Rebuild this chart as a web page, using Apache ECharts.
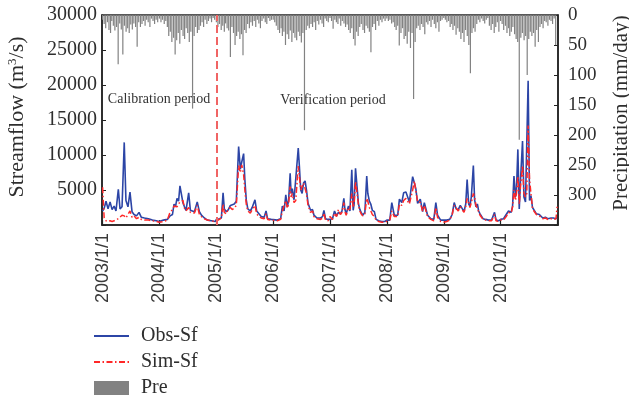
<!DOCTYPE html>
<html><head><meta charset="utf-8">
<script src="https://cdn.jsdelivr.net/npm/echarts/dist/echarts.min.js"></script>
<style>html,body{margin:0;padding:0;background:#fff}#c{width:629px;height:400px}</style>
</head><body><div id="c"></div>
<script>
// ---- data ----
const flowDates = [
'2003-01-01','2003-01-11','2003-01-23','2003-02-05','2003-02-18','2003-03-03','2003-03-16','2003-03-28','2003-04-12','2003-04-23','2003-05-06','2003-05-20','2003-05-31','2003-06-13','2003-06-26','2003-07-09','2003-07-22','2003-08-07','2003-08-23','2003-09-07','2003-09-27','2003-10-22','2003-11-17','2003-12-12','2003-12-30',
'2004-01-01','2004-01-27','2004-02-21','2004-03-09','2004-03-25','2004-04-04','2004-04-13','2004-04-23','2004-05-03','2004-05-12','2004-05-19','2004-05-31','2004-06-10','2004-06-20','2004-07-07','2004-07-18','2004-07-31','2004-08-13','2004-08-31','2004-09-14','2004-09-27','2004-10-16','2004-11-04','2004-11-30','2004-12-25',
'2005-01-01','2005-01-20','2005-02-02','2005-02-13','2005-02-21','2005-03-06','2005-03-19','2005-04-01','2005-04-13','2005-04-26','2005-05-09','2005-05-24','2005-06-04','2005-06-13','2005-06-25','2005-07-03','2005-07-12','2005-07-22','2005-08-07','2005-08-19','2005-09-06','2005-09-17','2005-09-27','2005-10-16','2005-11-04','2005-11-16','2005-11-26','2005-12-19','2005-12-30',
'2006-01-01','2006-01-27','2006-02-18','2006-03-01','2006-03-12','2006-03-23','2006-04-02','2006-04-10','2006-04-20','2006-04-26','2006-05-04','2006-05-15','2006-05-26','2006-06-11','2006-06-18','2006-06-27','2006-07-06','2006-07-15','2006-07-25','2006-08-03','2006-08-13','2006-08-29','2006-09-11','2006-09-20','2006-10-09','2006-11-01','2006-11-14','2006-11-23','2006-12-03','2006-12-19','2006-12-30',
'2007-01-01','2007-01-17','2007-01-30','2007-02-12','2007-02-24','2007-03-09','2007-03-19','2007-03-31','2007-04-07','2007-04-15','2007-04-30','2007-05-09','2007-05-21','2007-05-30','2007-06-05','2007-06-14','2007-06-24','2007-07-03','2007-07-12','2007-07-20','2007-07-30','2007-08-13','2007-08-25','2007-09-01','2007-09-11','2007-09-20','2007-09-30','2007-10-13','2007-10-24','2007-11-10','2007-11-30','2007-12-19','2007-12-30',
'2008-01-01','2008-01-20','2008-02-02','2008-02-18','2008-03-11','2008-03-22','2008-04-06','2008-04-18','2008-05-03','2008-05-14','2008-05-25','2008-06-15','2008-06-26','2008-07-06','2008-07-17','2008-08-03','2008-08-18','2008-08-29','2008-09-19','2008-10-10','2008-10-29','2008-11-11','2008-11-22','2008-12-12','2008-12-30',
'2009-01-01','2009-01-20','2009-02-08','2009-02-24','2009-03-09','2009-03-22','2009-04-04','2009-04-17','2009-04-29','2009-05-11','2009-05-22','2009-05-31','2009-06-10','2009-06-18','2009-06-27','2009-07-10','2009-07-18','2009-07-27','2009-08-05','2009-08-13','2009-08-22','2009-09-10','2009-09-27','2009-10-16','2009-11-04','2009-11-23','2009-12-03','2009-12-19','2009-12-30',
'2010-01-01','2010-01-20','2010-02-06','2010-02-21','2010-03-10','2010-03-19','2010-03-28','2010-04-07','2010-04-13','2010-04-22','2010-05-01','2010-05-09','2010-05-22','2010-05-31','2010-06-10','2010-06-18','2010-06-27','2010-07-06','2010-07-15','2010-07-25','2010-08-03','2010-08-19','2010-09-07','2010-09-29','2010-10-16','2010-10-31','2010-11-21','2010-12-06','2010-12-23','2010-12-30'
];
const obsFlow = [
2000,2400,3400,2300,3300,2200,2700,2000,5100,2300,2600,11800,3500,2600,4700,1900,1500,1300,1800,1100,1000,900,700,600,500,
600,700,800,1300,1500,3000,2600,3800,3400,5600,4700,3200,2600,2100,4600,2100,2000,1900,3300,1900,1400,1000,700,600,500,
800,900,1000,4600,2300,1900,2200,2800,2600,3000,3400,11200,8000,9000,10200,6500,3600,2300,2000,2500,3600,2000,1800,1200,1100,2000,900,800,700,
700,700,900,2700,2000,4300,2600,3500,7400,4500,5200,3600,3600,11000,8500,5000,4500,6000,6300,5000,3100,2100,2200,1400,1000,1000,1200,2100,900,800,700,
800,900,2000,1300,1800,1600,2000,3800,2200,1600,2700,2000,7900,2100,3000,8100,5400,3000,2200,1800,1400,1800,7000,4500,3400,3000,2100,1900,800,600,500,500,500,
700,700,3200,1400,1400,3700,3200,4600,4700,4800,3300,6900,6000,5100,3100,3700,1900,3200,1400,900,800,3200,1400,700,700,
700,700,800,1500,3200,2300,2200,2800,2900,1900,3000,6500,3000,2700,4000,8500,3600,2600,3000,2000,1600,900,800,700,700,1800,700,600,700,
800,900,1500,2000,1800,2700,7000,4000,5000,10800,2300,6400,12000,4000,3300,3100,20600,3500,4200,2500,2300,1600,1500,1000,1100,900,1000,1000,900,1000
];
const simFlow = [
5400,1000,600,500,600,500,600,700,900,1000,1400,1300,1000,1500,2000,1100,1300,900,1100,800,700,700,600,500,400,
400,500,700,1800,2200,2700,2500,2600,3000,3300,3400,3500,2400,2000,2500,1800,1700,1700,2800,1500,1200,900,700,600,450,
700,800,1000,3000,1800,1600,2300,2500,2200,2400,2800,8500,7500,8600,7200,5000,3000,2000,1700,2200,2800,1600,1300,1000,900,1600,800,700,600,
600,600,800,2000,1800,3500,2400,3000,5500,4000,4500,3200,3500,8400,7000,5000,5000,6000,5800,4500,2800,1800,2000,1200,900,800,1000,1700,700,600,600,
1200,800,1700,1200,2200,1500,1800,3200,1900,1400,2500,2200,4500,2500,3200,6200,4500,2800,2000,1600,1300,1600,3800,3400,2500,2300,1500,1200,700,500,400,400,500,
500,700,2000,1200,1200,3000,2800,3500,3800,3800,3000,5000,6300,4800,3300,3200,2000,2800,1200,800,600,2500,1100,500,400,
500,500,700,1500,2800,2400,2000,2600,2700,1800,2600,3800,3200,2500,3200,4500,4000,2800,2900,1900,1400,800,700,600,600,1500,600,500,600,
700,700,1200,1800,1700,2600,5000,3500,4500,7000,3000,5500,8500,4500,4000,4500,14200,6500,4500,2400,2000,1500,1300,900,1000,800,900,800,900,2600
];
// precipitation (mm/day), one reading per dekad (1st, 11th, 21st of each month)
const precipYears = [2003,2004,2005,2006,2007,2008,2009,2010];
const dekadDays = [1, 11, 21];
const precip = [
8,15,22,12,25,30,10,18,26,20,82,14,24,66,18,28,22,30,16,24,14,20,53,12,20,15,10,18,8,12,20,6,10,15,8,12,
6,12,8,15,10,20,35,28,45,38,66,42,30,48,25,35,40,22,30,45,28,156,35,20,30,25,18,12,20,8,15,10,6,12,5,8,
12,20,15,25,18,28,14,22,26,70,20,30,50,35,28,40,32,67,25,30,15,22,12,18,10,20,8,14,22,10,6,12,15,5,10,8,
8,12,18,25,30,22,35,28,50,32,40,26,45,30,38,42,28,35,46,30,192,25,18,22,15,20,12,25,10,16,8,14,20,6,10,12,
5,10,23,8,12,15,6,18,10,14,20,16,25,30,22,40,51,28,35,20,15,25,30,18,22,28,62,20,15,25,10,18,8,12,6,10,
6,10,8,14,12,20,25,18,51,30,22,40,35,48,28,55,30,140,45,22,18,25,15,20,32,12,16,10,20,8,15,22,12,28,10,8,
5,8,12,10,20,15,25,18,33,22,28,40,30,45,25,35,50,97,30,22,28,15,8,12,6,10,14,8,5,18,25,15,30,20,12,28,
10,15,25,18,30,22,35,28,20,32,40,45,208,38,30,42,35,100,40,28,35,30,53,25,45,20,15,22,10,12,18,8,10,15,6,50
];
const xTickLabels = ['2003/1/1','2004/1/1','2005/1/1','2006/1/1','2007/1/1','2008/1/1','2009/1/1','2010/1/1'];
const splitDate = '2005-01-01';
const periodLabels = ['Calibration period', 'Verification period'];

// ---- build ----
const pad = n => (n < 10 ? '0' : '') + n;
const precipDates = [];
precipYears.forEach(y => { for (let m = 1; m <= 12; m++) dekadDays.forEach(d => precipDates.push(y + '-' + pad(m) + '-' + pad(d))); });

const serif = '"Liberation Serif", "Times New Roman", serif';
const sans = '"Liberation Sans", Arial, sans-serif';
const txt = '#2e2e2e';

const chart = echarts.init(document.getElementById('c'), null, {renderer: 'canvas'});
chart.setOption({
  animation: false,
  backgroundColor: '#fff',
  grid: {left: 102, right: 71, top: 15, bottom: 175, containLabel: false, outerBoundsMode: 'none',
         show: true, borderColor: '#222', borderWidth: 1.5, backgroundColor: 'transparent'},
  legend: {
    orient: 'vertical', left: 93, top: 326, height: 76, padding: 0,
    itemWidth: 35, itemHeight: 14, itemGap: 6,
    textStyle: {fontFamily: serif, fontSize: 20, color: txt, padding: [0, 0, 0, 7]},
    data: [
      {name: 'Obs-Sf', itemStyle: {opacity: 0}},
      {name: 'Sim-Sf', itemStyle: {opacity: 0}},
      {name: 'Pre', icon: 'rect'}
    ]
  },
  xAxis: {
    type: 'time', min: '2003-01-01', max: '2011-01-01',
    splitNumber: 8, minInterval: 365 * 864e5, maxInterval: 366 * 864e5,
    axisLine: {lineStyle: {color: '#222', width: 1.5}},
    axisTick: {inside: true, length: 5, lineStyle: {color: '#222', width: 1.2}},
    splitLine: {show: false},
    axisLabel: {
      rotate: 90, margin: 8, fontFamily: sans, fontSize: 18, color: '#3a3a3a',
      formatter: v => xTickLabels[new Date(v).getFullYear() - 2003] || ''
    }
  },
  yAxis: [{
    type: 'value', min: 0, max: 30000, interval: 5000, position: 'left',
    name: 'Streamflow (m{sup|3}/s)', nameLocation: 'middle', nameRotate: 90, nameGap: 73,
    nameTextStyle: {fontFamily: serif, fontSize: 22, color: txt, padding: [0, 0, 0, 6],
      rich: {sup: {fontFamily: serif, fontSize: 13, color: txt, verticalAlign: 'top', padding: [0, 0, 10, 0]}}},
    axisLine: {show: true, lineStyle: {color: '#222', width: 1.5}},
    axisTick: {show: true, inside: true, length: 4, lineStyle: {color: '#222'}},
    splitLine: {show: false},
    axisLabel: {margin: 5, fontFamily: serif, fontSize: 20, color: txt, formatter: v => v === 0 ? '' : String(v)}
  }, {
    type: 'value', min: 0, max: 350, interval: 50, position: 'right', inverse: true,
    name: 'Precipitation (mm/day)', nameLocation: 'middle', nameRotate: 90, nameGap: 53,
    nameTextStyle: {fontFamily: serif, fontSize: 21, color: txt, padding: [0, 0, 0, 14]},
    axisLine: {show: true, lineStyle: {color: '#222', width: 1.5}},
    axisTick: {show: true, inside: true, length: 4, lineStyle: {color: '#222'}},
    splitLine: {show: false},
    axisLabel: {margin: 10, fontFamily: serif, fontSize: 19, color: txt, formatter: v => v === 350 ? '' : String(v)}
  }],
  series: [{
    name: 'Pre', type: 'bar', xAxisIndex: 0, yAxisIndex: 1, barWidth: 1.2, z: 1,
    itemStyle: {color: '#828282'}, silent: true,
    data: precipDates.map((d, i) => [d, precip[i]])
  }, {
    name: 'Obs-Sf', type: 'line', yAxisIndex: 0, symbol: 'none', z: 3,
    lineStyle: {color: '#2c45a6', width: 1.6}, itemStyle: {color: '#2c45a6'},
    data: flowDates.map((d, i) => [d, obsFlow[i]]),
    markLine: {
      silent: true, symbol: 'none', label: {show: false},
      lineStyle: {color: '#f06464', width: 2, type: [8, 4]},
      data: [{xAxis: splitDate}]
    }
  }, {
    name: 'Sim-Sf', type: 'line', yAxisIndex: 0, symbol: 'none', z: 4,
    lineStyle: {color: '#ff2828', width: 1.5, type: [6, 2.5, 1.5, 2.5]}, itemStyle: {color: '#ff2828'},
    data: flowDates.map((d, i) => [d, simFlow[i]])
  }],
  graphic: [
    {type: 'text', x: 159, y: 99, style: {text: periodLabels[0], font: '14px ' + serif, fill: '#333', align: 'center', verticalAlign: 'middle'}},
    {type: 'text', x: 333, y: 100, style: {text: periodLabels[1], font: '14px ' + serif, fill: '#333', align: 'center', verticalAlign: 'middle'}}
  ]
});
</script>
</body></html>
